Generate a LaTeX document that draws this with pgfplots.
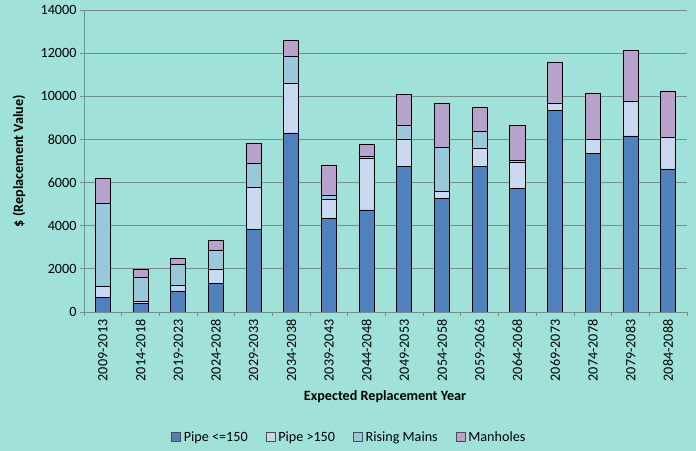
\documentclass[border=0pt]{standalone}
\usepackage{pgfplots}
\pgfplotsset{compat=1.18}
\usepackage{fontspec}
\setmainfont{Carlito}
\definecolor{bg}{HTML}{A0E2D9}
\definecolor{cA}{HTML}{4F81BD}
\definecolor{cB}{HTML}{C9DAF0}
\definecolor{cC}{HTML}{98C8DA}
\definecolor{cD}{HTML}{B6A2CA}
\definecolor{gridc}{HTML}{7A8C8A}
\begin{document}
\begin{tikzpicture}
\fill[bg] (0,0) rectangle (696bp,451bp);
\begin{axis}[
  at={(84bp,139bp)}, anchor=south west,
  scale only axis, width=603bp, height=302bp,
  ybar stacked, bar width=0.4,
  xmin=-0.5, xmax=15.5, ymin=0, ymax=14000,
  ytick={0,2000,...,14000},
  scaled y ticks=false,
  ymajorgrids, grid style={gridc, line width=0.8pt},
  axis x line*=bottom, axis y line*=left,
  axis line style={gridc, line width=0.8pt},
  xtick={0,...,15},
  xticklabels={2009-2013,2014-2018,2019-2023,2024-2028,2029-2033,2034-2038,2039-2043,2044-2048,2049-2053,2054-2058,2059-2063,2064-2068,2069-2073,2074-2078,2079-2083,2084-2088},
  minor xtick={-0.5,0.5,...,15.5},
  major x tick style={draw=none},
  minor x tick style={gridc, line width=0.8pt},
  y tick style={gridc, line width=0.8pt},
  tick align=outside, major tick length=4bp, minor tick length=4bp,
  x tick label style={rotate=90, anchor=east, font=\fontsize{14.2}{17}\selectfont},
  y tick label style={font=\fontsize{14.2}{17}\selectfont},
  /pgf/number format/assume math mode=true,
  /pgf/number format/1000 sep={},
  yticklabel style={/pgf/number format/fixed},
  xlabel={\textbf{Expected Replacement Year}},
  xlabel style={at={(axis description cs:0.4993,-0.28)}, anchor=center, font=\fontsize{14.2}{17}\selectfont},
  ylabel={\textbf{\$ (Replacement Value)}},
  ylabel style={at={(axis description cs:-0.108,0.5)}, anchor=center, font=\fontsize{14.2}{17}\selectfont},
  legend columns=4,
  legend style={at={(axis description cs:0.44,-0.414)}, anchor=center, draw=none, fill=none,
    font=\fontsize{14.2}{17}\selectfont, /tikz/every even column/.append style={column sep=16bp},
    /tikz/every odd column/.append style={column sep=1bp}},
  legend image code/.code={\draw[#1, draw=black!70, line width=0.6pt] (0bp,-4.5bp) rectangle (9bp,4.5bp);},
]
\addplot[fill=cA, draw=black, line width=0.8pt] coordinates {(0,695) (1,417) (2,974) (3,1326) (4,3848) (5,8298) (6,4340) (7,4729) (8,6750) (9,5267) (10,6750) (11,5730) (12,9347) (13,7353) (14,8160) (15,6630)};
\addplot[fill=cB, draw=black, line width=0.8pt] coordinates {(0,510) (1,60) (2,278) (3,668) (4,1929) (5,2319) (6,899) (7,2411) (8,1270) (9,324) (10,853) (11,1224) (12,342) (13,667) (14,1622) (15,1483)};
\addplot[fill=cC, draw=black, line width=0.8pt] coordinates {(0,3848) (1,1146) (2,955) (3,880) (4,1113) (5,1233) (6,185) (7,92) (8,631) (9,2059) (10,770) (11,76) (12,0) (13,0) (14,0) (15,0)};
\addplot[fill=cD, draw=black, line width=0.8pt] coordinates {(0,1141) (1,371) (2,296) (3,464) (4,927) (5,760) (6,1391) (7,538) (8,1437) (9,2021) (10,1113) (11,1621) (12,1901) (13,2114) (14,2364) (15,2133)};
\legend{Pipe <=150, Pipe >150, Rising Mains, Manholes}
\end{axis}
\end{tikzpicture}
\end{document}
